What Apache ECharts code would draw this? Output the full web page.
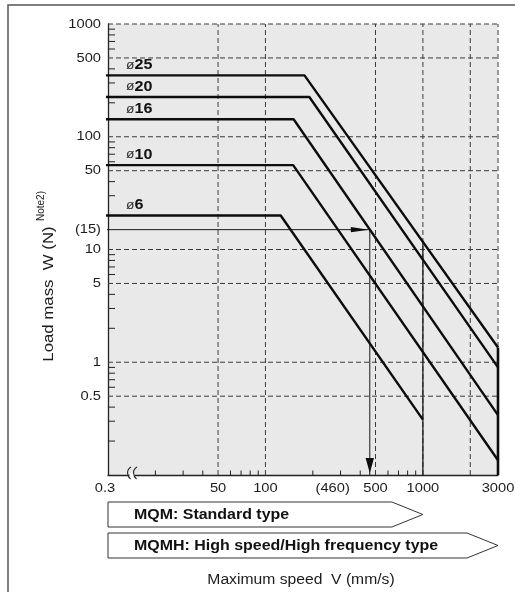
<!DOCTYPE html>
<html><head><meta charset="utf-8">
<script src="https://cdn.jsdelivr.net/npm/echarts@6/dist/echarts.min.js"></script>
<style>html,body{margin:0;padding:0;background:#fff;}#c{width:515px;height:592px;}</style>
</head><body><div id="c"></div>
<script>
// ---------------- data ----------------
const SPEED_MIN = 10;      // axis resumes here after the break (labelled 0.3)
const SPEED_MAX = 3000;
const LOAD_MIN = 0.1;
const LOAD_MAX = 1000;

const SERIES_NAMES = ['ø25', 'ø20', 'ø16', 'ø10', 'ø6'];
const SPEED_START = 0.3;
const KNEE_SPEED = [177, 190, 151, 150, 125];
const MAX_LOAD = [350, 225, 143, 56, 20];
const END_SPEED = [3000, 3000, 3000, 3000, 1000];
const END_LOAD = [1.35, 0.9, 0.34, 0.135, 0.31];

const LOAD_TICK_VALUES = [1000, 500, 100, 50, 15, 10, 5, 1, 0.5];
const LOAD_TICK_LABELS = ['1000', '500', '100', '50', '(15)', '10', '5', '1', '0.5'];
const SPEED_TICK_VALUES = [10, 50, 100, 460, 500, 1000, 3000];
const SPEED_TICK_LABELS = ['0.3', '50', '100', '(460)', '500', '1000', '3000'];

const LOAD_MINOR = [0.2, 0.3, 0.4, 0.6, 0.7, 0.8, 0.9, 2, 3, 4, 6, 7, 8, 9, 20, 30, 40, 60, 70, 80, 90, 200, 300, 400, 600, 700, 800, 900];
const SPEED_MINOR = [20, 30, 40, 60, 70, 80, 90, 200, 300, 400, 600, 700, 800, 900];
const LOAD_GRID = [1000, 500, 100, 50, 10, 5, 1, 0.5];
const SPEED_GRID = [50, 100, 500, 1000, 2000, 3000];

const EXAMPLE_SPEED = 460;
const EXAMPLE_LOAD = 15;
const MQM_LIMIT_SPEED = 1000;
const MQM_LIMIT_TOP_LOAD = 11.5;
const MQMH_LIMIT_SPEED = 3000;
const MQMH_LIMIT_TOP_LOAD = 1.35;
const AXIS_BREAK_SPEED = 14;

const TYPE_LABELS = ['MQM: Standard type', 'MQMH: High speed/High frequency type'];
const TYPE_MAX_SPEED = [1000, 3000];

const X_NAME = 'Maximum speed  V (mm/s)';
const Y_NAME = 'Load mass  W (N)';
const Y_NAME_NOTE = 'Note2)';

// ---------------- rendering ----------------
const FONT = '"Liberation Sans", Arial, Helvetica, sans-serif';
const INK = '#1c1c1c';
const chart = echarts.init(document.getElementById('c'));

function txt(x, y, text, o) {
  o = o || {};
  return {
    type: 'text', x: x, y: y, scaleX: o.sx || 1.13, rotation: o.rot || 0,
    style: {
      text: text, fontFamily: FONT, fontSize: o.size || 13, fontWeight: o.weight || 'normal',
      fill: o.color || INK, align: o.align || 'center', verticalAlign: o.va || 'middle', rich: o.rich
    }
  };
}

const series = [];

// dashed grid lines
series.push({
  type: 'custom', silent: true, z: 1,
  data: SPEED_GRID.map(v => [v, LOAD_MIN, 0]).concat(LOAD_GRID.map(v => [SPEED_MIN, v, 1])),
  renderItem: (p, api) => {
    const kind = api.value(2);
    let a, b;
    if (kind === 0) { a = api.coord([api.value(0), LOAD_MIN]); b = api.coord([api.value(0), LOAD_MAX]); }
    else { a = api.coord([SPEED_MIN, api.value(1)]); b = api.coord([SPEED_MAX, api.value(1)]); }
    return { type: 'line', shape: { x1: a[0], y1: a[1], x2: b[0], y2: b[1] },
      style: { stroke: '#3a3a3a', lineWidth: 1, lineDash: [5, 3] } };
  }
});

// minor ticks
series.push({
  type: 'custom', silent: true, z: 2,
  data: LOAD_MINOR.map(v => [SPEED_MIN, v, 1]).concat(SPEED_MINOR.map(v => [v, LOAD_MIN, 0])),
  renderItem: (p, api) => {
    const c = api.coord([api.value(0), api.value(1)]);
    const kind = api.value(2);
    const shape = kind === 1 ? { x1: c[0], y1: c[1], x2: c[0] + 7, y2: c[1] }
                             : { x1: c[0], y1: c[1], x2: c[0], y2: c[1] - 4.5 };
    return { type: 'line', shape: shape, style: { stroke: '#222', lineWidth: 1 } };
  }
});

// tick labels
series.push({
  type: 'custom', silent: true, z: 3,
  data: LOAD_TICK_VALUES.map((v, i) => [SPEED_MIN, v, 1, i]).concat(SPEED_TICK_VALUES.map((v, i) => [v, LOAD_MIN, 0, i])),
  renderItem: (p, api) => {
    const c = api.coord([api.value(0), api.value(1)]);
    const i = api.value(3);
    if (api.value(2) === 1) {
      return txt(c[0] - 7, c[1], LOAD_TICK_LABELS[i], { align: 'right' });
    }
    let x = c[0];
    let align = 'center';
    if (api.value(0) === EXAMPLE_SPEED) { x = c[0] - 20; align = 'right'; }
    if (api.value(0) === SPEED_MIN) { x = c[0] - 3; }
    return txt(x, c[1] + 13, SPEED_TICK_LABELS[i], { align: align });
  }
});

// axis break mark
series.push({
  type: 'custom', silent: true, z: 6,
  data: [[AXIS_BREAK_SPEED, LOAD_MIN]],
  renderItem: (p, api) => {
    const c = api.coord([api.value(0), api.value(1)]);
    const mk = dx => ({ type: 'bezierCurve',
      shape: { x1: c[0] + dx + 2, y1: c[1] - 8, cpx1: c[0] + dx - 3, cpy1: c[1] - 5, cpx2: c[0] + dx - 2, cpy2: c[1] + 1, x2: c[0] + dx + 1.5, y2: c[1] + 4 },
      style: { stroke: '#222', lineWidth: 1.1, fill: null } });
    return { type: 'group', children: [
      { type: 'rect', shape: { x: c[0] - 1.5, y: c[1] - 2, width: 5, height: 4 }, style: { fill: '#fff' } },
      mk(-2), mk(4)
    ] };
  }
});

// bore characteristic lines
SERIES_NAMES.forEach((name, i) => {
  series.push({
    name: name, type: 'line', z: 5, symbol: 'none', clip: true, silent: true,
    lineStyle: { color: '#0d0d0d', width: 2.4 },
    data: [[SPEED_START, MAX_LOAD[i]], [KNEE_SPEED[i], MAX_LOAD[i]], [END_SPEED[i], END_LOAD[i]]]
  });
});

// speed limit lines
series.push({
  type: 'line', z: 4, symbol: 'none', silent: true, lineStyle: { color: '#1a1a1a', width: 1.3 },
  data: [[MQM_LIMIT_SPEED, MQM_LIMIT_TOP_LOAD], [MQM_LIMIT_SPEED, LOAD_MIN]]
});
series.push({
  type: 'line', z: 5, symbol: 'none', silent: true, clip: false, lineStyle: { color: '#0d0d0d', width: 2.6 },
  data: [[MQMH_LIMIT_SPEED, MQMH_LIMIT_TOP_LOAD], [MQMH_LIMIT_SPEED, LOAD_MIN]]
});

// example reading line
series.push({
  type: 'line', z: 4, symbol: 'none', silent: true, clip: true, lineStyle: { color: '#1a1a1a', width: 1 },
  data: [[SPEED_START, EXAMPLE_LOAD], [EXAMPLE_SPEED, EXAMPLE_LOAD], [EXAMPLE_SPEED, LOAD_MIN]]
});
series.push({
  type: 'custom', silent: true, z: 6,
  data: [[EXAMPLE_SPEED, EXAMPLE_LOAD, 0], [EXAMPLE_SPEED, LOAD_MIN, 1]],
  renderItem: (p, api) => {
    const c = api.coord([api.value(0), api.value(1)]);
    const pts = api.value(2) === 0
      ? [[c[0] - 1, c[1]], [c[0] - 19, c[1] - 2.6], [c[0] - 19, c[1] + 2.6]]
      : [[c[0], c[1] - 2], [c[0] - 4.2, c[1] - 17], [c[0] + 4.2, c[1] - 17]];
    return { type: 'polygon', shape: { points: pts }, style: { fill: '#0d0d0d' } };
  }
});

// bore labels
series.push({
  type: 'custom', silent: true, z: 6,
  data: MAX_LOAD.map((w, i) => [SPEED_MIN, w, i]),
  renderItem: (p, api) => {
    const c = api.coord([api.value(0), api.value(1)]);
    const name = SERIES_NAMES[api.value(2)];
    const t = '{a|' + name.slice(0, 1) + '}{b|' + name.slice(1) + '}';
    return txt(c[0] + 18, c[1] - 3, t, { align: 'left', va: 'bottom', sx: 1.15,
      rich: { a: { fontFamily: FONT, fontSize: 12, fill: '#333' },
              b: { fontFamily: FONT, fontSize: 14, fontWeight: 'bold', fill: '#111' } } });
  }
});

// type range boxes
series.push({
  type: 'custom', silent: true, z: 6,
  data: TYPE_MAX_SPEED.map((v, i) => [v, LOAD_MIN, i]),
  renderItem: (p, api) => {
    const i = api.value(2);
    const tip = api.coord([api.value(0), api.value(1)]);
    const left = api.coord([SPEED_MIN, LOAD_MIN]);
    const top = left[1] + 27 + i * 31;
    const h = 25;
    const pts = [[left[0], top], [tip[0] - 31, top], [tip[0], top + h / 2], [tip[0] - 31, top + h], [left[0], top + h]];
    return { type: 'group', children: [
      { type: 'polygon', shape: { points: pts }, style: { fill: '#fff', stroke: '#333', lineWidth: 1 } },
      txt(left[0] + 26, top + h / 2 + 0.5, TYPE_LABELS[i], { align: 'left', size: 14, weight: 'bold', sx: 1.14, color: '#111' })
    ] };
  }
});

chart.setOption({
  animation: false,
  grid: { left: 108, right: 17, top: 24, bottom: 117, show: true, backgroundColor: '#e8e9e8', borderWidth: 0 },
  xAxis: {
    type: 'log', logBase: 10, min: SPEED_MIN, max: SPEED_MAX,
    axisLine: { show: true, onZero: false, lineStyle: { color: '#222', width: 1.3 } },
    axisTick: { show: false }, axisLabel: { show: false }, splitLine: { show: false }
  },
  yAxis: {
    type: 'log', logBase: 10, min: LOAD_MIN, max: LOAD_MAX,
    axisLine: { show: true, onZero: false, lineStyle: { color: '#222', width: 1.3 } },
    axisTick: { show: false }, axisLabel: { show: false }, splitLine: { show: false }
  },
  graphic: [
    { type: 'rect', z: -1, silent: true, shape: { x: 8, y: 5, width: 600, height: 700 },
      style: { fill: null, stroke: '#555', lineWidth: 1.5 } },
    { type: 'text', x: 301, y: 580, scaleX: 1.12, silent: true,
      style: { text: X_NAME, fontFamily: FONT, fontSize: 14, fill: INK, align: 'center', verticalAlign: 'middle' } },
    { type: 'text', x: 49, y: 294, rotation: Math.PI / 2, scaleX: 1.2, silent: true,
      style: { text: Y_NAME, fontFamily: FONT, fontSize: 14, fill: INK, align: 'center', verticalAlign: 'middle' } },
    { type: 'text', x: 41, y: 206, rotation: Math.PI / 2, scaleX: 1.0, silent: true,
      style: { text: Y_NAME_NOTE, fontFamily: FONT, fontSize: 10, fill: INK, align: 'center', verticalAlign: 'middle' } }
  ],
  series: series
});
</script></body></html>
